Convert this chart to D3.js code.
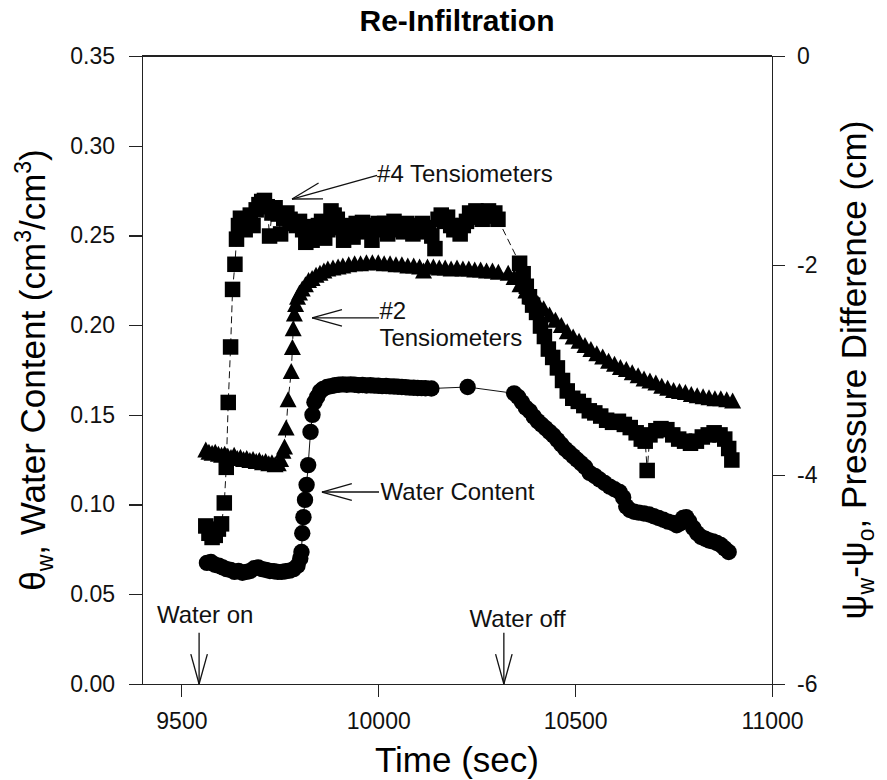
<!DOCTYPE html>
<html>
<head>
<meta charset="utf-8">
<title>Re-Infiltration</title>
<style>
  body { margin: 0; background: #fff; }
  svg { font-family: "Liberation Sans", Arial, sans-serif; }
  .axis path, .axis line { stroke: #222; stroke-width: 1.2; shape-rendering: crispEdges; }
  .axis text { font-size: 23px; fill: #111; font-family: "Liberation Sans", Arial, sans-serif; }
  .note { font-size: 24px; fill: #111; }
  .arrow { stroke: #111; stroke-width: 1.3; fill: none; }
</style>
</head>
<body>
<svg width="887" height="780"></svg>
<script src="https://d3js.org/d3.v7.min.js"></script>
<script>
// ---- data ----
// water content (left axis, cm3/cm3)
var wcTime = [9565,9575,9585,9595,9605,9615,9625,9635,9645,9655,9665,9675,9685,9695,9705,9715,9725,9735,9745,9755,9765,9775,9785,9795,
  9802,9805,9807,9810,9814,9818,9822,9828,9833,9838,9845,9852,9860,9870,9880,9890,9900,9910,9920,9930,9940,9950,9960,9970,9980,9990,
  10000,10010,10020,10030,10040,10050,10060,10070,10080,10090,10100,10110,10120,10135,10227,
  10345,10355,10365,10375,10385,10395,10405,10415,10425,10435,10445,10455,10465,10475,10485,10495,10505,10515,10525,10537,10550,10562,
  10575,10588,10600,10613,10622,10630,10639,10650,10662,10675,10688,10700,10712,10724,10736,10748,10758,10766,10774,10782,10790,10800,
  10810,10820,10830,10840,10850,10860,10870,10880,10890];
var wcValue = [0.0675,0.0680,0.0665,0.0660,0.0650,0.0640,0.0635,0.0625,0.0630,0.0620,0.0625,0.0630,0.0645,0.0650,0.0640,0.0635,0.0630,0.0628,0.0625,0.0625,0.0628,0.0632,0.0640,0.0660,
  0.0700,0.0736,0.0840,0.0930,0.1026,0.1110,0.1220,0.1405,0.1500,0.1570,0.1600,0.1630,0.1645,0.1655,0.1660,0.1665,0.1668,0.1670,0.1668,0.1670,0.1668,0.1665,0.1666,0.1664,0.1665,0.1663,
  0.1662,0.1660,0.1661,0.1659,0.1658,0.1657,0.1655,0.1654,0.1652,0.1651,0.1650,0.1649,0.1648,0.1647,0.1655,
  0.1620,0.1600,0.1570,0.1540,0.1520,0.1490,0.1465,0.1445,0.1425,0.1405,0.1385,0.1360,0.1335,0.1310,0.1290,0.1270,0.1250,0.1230,0.1210,0.1176,0.1160,0.1140,
  0.1120,0.1100,0.1085,0.1070,0.1040,0.0990,0.0970,0.0960,0.0955,0.0950,0.0945,0.0935,0.0925,0.0915,0.0905,0.0897,0.0885,0.0895,0.0925,0.0930,0.0905,0.0870,
  0.0840,0.0820,0.0810,0.0800,0.0795,0.0786,0.0775,0.0755,0.0736];

// #2 tensiometers (right axis, cm)
var t2Time = [9562,9570,9578,9586,9594,9602,9610,9618,9626,9634,9642,9650,9658,9666,9674,9682,9690,9698,9706,9714,9722,9730,9738,9746,
  9752,9758,9762,9766,9771,9779,9782,9784,9787,9790,9795,9800,9807,9815,9823,9832,9842,9852,9862,9872,9885,9898,9910,9925,9940,9955,9970,9985,
  10000,10015,10030,10045,10060,10075,10090,10105,10115,10125,10140,10155,10170,10185,10200,10215,10230,10245,10260,10275,10290,10305,
  10330,10345,10360,10375,10390,10405,10420,10435,10450,10465,10480,10495,10510,10525,10540,10555,10570,10585,10600,10615,10630,10645,
  10660,10675,10690,10705,10720,10735,10750,10765,10780,10795,10810,10825,10840,10855,10870,10885,10900];
var t2Value = [-3.77,-3.79,-3.80,-3.79,-3.81,-3.82,-3.81,-3.83,-3.84,-3.82,-3.85,-3.84,-3.86,-3.85,-3.87,-3.86,-3.88,-3.87,-3.89,-3.88,-3.90,-3.89,-3.91,-3.90,
  -3.86,-3.78,-3.74,-3.56,-3.29,-3.02,-2.79,-2.61,-2.47,-2.38,-2.31,-2.27,-2.23,-2.19,-2.15,-2.13,-2.10,-2.08,-2.06,-2.04,-2.03,-2.02,-2.01,-2.00,-1.99,-1.99,-1.98,-1.98,
  -1.98,-1.99,-1.99,-2.00,-2.00,-2.01,-2.01,-2.02,-2.06,-2.02,-2.02,-2.03,-2.03,-2.04,-2.03,-2.04,-2.04,-2.05,-2.05,-2.06,-2.06,-2.07,
  -2.08,-2.12,-2.19,-2.25,-2.31,-2.37,-2.42,-2.48,-2.53,-2.58,-2.64,-2.69,-2.73,-2.77,-2.81,-2.85,-2.88,-2.92,-2.95,-2.98,-3.00,-3.03,
  -3.06,-3.09,-3.11,-3.13,-3.16,-3.18,-3.20,-3.21,-3.22,-3.24,-3.25,-3.26,-3.27,-3.28,-3.28,-3.29,-3.30];

// #4 tensiometers (right axis, cm)
var t4Time = [9562,9570,9578,9586,9594,9602,9609,9614,9619,9625,9630,9636,9640,9645,9650,9656,9662,9668,9675,9682,9690,9697,9704,9711,9718,9724,
  9730,9738,9746,9752,9760,9768,9776,9784,9792,9800,9808,9816,9824,9832,9840,9848,9856,9864,9872,9880,9888,9896,9904,9912,9920,9928,9936,9944,
  9952,9960,9968,9976,9984,9992,10000,10008,10016,10024,10032,10040,10048,10056,10064,10072,10080,10088,10096,10104,10112,10120,10128,10136,
  10144,10152,10160,10168,10176,10184,10192,10200,10208,10216,10224,10232,10240,10248,10256,10264,10272,10280,10288,10296,10304,
  10359,10368,10376,10384,10392,10402,10412,10422,10432,10443,10455,10468,10480,10494,10508,10522,10536,10550,10565,10580,10595,10610,
  10625,10640,10655,10668,10678,10683,10690,10705,10718,10733,10748,10763,10778,10793,10808,10823,10838,10853,10868,10880,10890,10898];
var t4Value = [-4.49,-4.56,-4.60,-4.58,-4.52,-4.47,-4.27,-3.93,-3.31,-2.78,-2.23,-1.99,-1.75,-1.62,-1.55,-1.60,-1.66,-1.58,-1.52,-1.62,-1.47,-1.42,-1.39,-1.38,-1.44,-1.72,
  -1.50,-1.45,-1.51,-1.70,-1.55,-1.50,-1.56,-1.60,-1.62,-1.58,-1.66,-1.78,-1.63,-1.76,-1.70,-1.62,-1.58,-1.74,-1.66,-1.48,-1.52,-1.56,-1.64,-1.76,-1.62,-1.66,-1.73,-1.60,
  -1.63,-1.59,-1.68,-1.62,-1.76,-1.64,-1.60,-1.66,-1.60,-1.70,-1.62,-1.58,-1.66,-1.62,-1.68,-1.60,-1.64,-1.70,-1.62,-1.66,-1.60,-1.68,-1.64,-1.72,
  -1.84,-1.56,-1.52,-1.58,-1.54,-1.62,-1.66,-1.64,-1.70,-1.62,-1.58,-1.50,-1.54,-1.48,-1.52,-1.56,-1.50,-1.48,-1.53,-1.50,-1.56,
  -1.98,-2.08,-2.20,-2.30,-2.38,-2.45,-2.58,-2.68,-2.80,-2.88,-2.98,-3.10,-3.20,-3.27,-3.30,-3.34,-3.39,-3.41,-3.44,-3.48,-3.50,-3.49,
  -3.52,-3.55,-3.60,-3.66,-3.68,-3.96,-3.62,-3.58,-3.56,-3.57,-3.62,-3.66,-3.68,-3.70,-3.68,-3.64,-3.62,-3.60,-3.62,-3.66,-3.75,-3.86];

// tick values
var xTicks = [9500, 10000, 10500, 11000];
var leftTicks = [0, 0.05, 0.10, 0.15, 0.20, 0.25, 0.30, 0.35];
var rightTicks = [-6, -4, -2, 0];

// ---- layout ----
var svg = d3.select("svg"),
    margin = {top: 56, right: 115, bottom: 96, left: 142},
    width = +svg.attr("width") - margin.left - margin.right,
    height = +svg.attr("height") - margin.top - margin.bottom,
    g = svg.append("g").attr("transform", "translate(" + margin.left + "," + margin.top + ")");

var x = d3.scaleLinear().domain([9400, 11000]).range([0, width]),
    yL = d3.scaleLinear().domain([0, 0.35]).range([height, 0]),
    yR = d3.scaleLinear().domain([-6, 0]).range([height, 0]);

function zip(a, b) { return a.map(function(t, i) { return {t: t, v: b[i]}; }); }
var wc = zip(wcTime, wcValue), t2 = zip(t2Time, t2Value), t4 = zip(t4Time, t4Value);

// title
svg.append("text")
    .attr("x", margin.left + width / 2)
    .attr("y", 31)
    .attr("text-anchor", "middle")
    .attr("font-size", 30)
    .attr("font-weight", "bold")
    .text("Re-Infiltration");

// frame top
g.append("line").attr("x1", 0).attr("x2", width).attr("y1", 0).attr("y2", 0)
    .attr("stroke", "#222").attr("stroke-width", 1.2).attr("shape-rendering", "crispEdges");

g.append("g").attr("class", "axis")
    .call(d3.axisLeft(yL).tickValues(leftTicks).tickFormat(d3.format(".2f")).tickSize(13).tickSizeOuter(0).tickPadding(14));

g.append("g").attr("class", "axis")
    .attr("transform", "translate(" + width + ",0)")
    .call(d3.axisRight(yR).tickValues(rightTicks).tickFormat(function(d) { return String(d); }).tickSize(13).tickSizeOuter(0).tickPadding(12));

g.append("g").attr("class", "axis")
    .attr("transform", "translate(0," + height + ")")
    .call(d3.axisBottom(x).tickValues(xTicks).tickFormat(function(d) { return String(d); }).tickSize(13).tickSizeOuter(0).tickPadding(16));

// axis titles
svg.append("text")
    .attr("x", margin.left + width / 2)
    .attr("y", 772)
    .attr("text-anchor", "middle")
    .attr("font-size", 35)
    .text("Time (sec)");

var lt = svg.append("text")
    .attr("transform", "translate(45," + (margin.top + height / 2) + ") rotate(-90)")
    .attr("text-anchor", "middle")
    .attr("font-size", 35);
lt.append("tspan").text("\u03b8");
lt.append("tspan").attr("font-size", 23).attr("dy", 8).text("w");
lt.append("tspan").attr("dy", -8).text(", Water Content (cm");
lt.append("tspan").attr("font-size", 23).attr("dy", -14).text("3");
lt.append("tspan").attr("dy", 14).text("/cm");
lt.append("tspan").attr("font-size", 23).attr("dy", -14).text("3");
lt.append("tspan").attr("dy", 14).text(")");

var rt = svg.append("text")
    .attr("transform", "translate(866," + (margin.top + height / 2) + ") rotate(-90)")
    .attr("text-anchor", "middle")
    .attr("font-size", 35);
rt.append("tspan").text("\u03c8");
rt.append("tspan").attr("font-size", 23).attr("dy", 8).text("w");
rt.append("tspan").attr("dy", -8).text("-\u03c8");
rt.append("tspan").attr("font-size", 23).attr("dy", 8).text("o");
rt.append("tspan").attr("dy", -8).text(", Pressure Difference (cm)");

// ---- series ----
var lineL = d3.line().x(function(d) { return x(d.t); }).y(function(d) { return yL(d.v); });
var lineR = d3.line().x(function(d) { return x(d.t); }).y(function(d) { return yR(d.v); });

g.append("path").attr("d", lineR(t4)).attr("fill", "none").attr("stroke", "#111")
    .attr("stroke-width", 1).attr("stroke-dasharray", "7,4");
g.append("path").attr("d", lineR(t2)).attr("fill", "none").attr("stroke", "#111")
    .attr("stroke-width", 1).attr("stroke-dasharray", "7,4");
g.append("path").attr("d", lineL(wc)).attr("fill", "none").attr("stroke", "#111")
    .attr("stroke-width", 1);

g.selectAll(".sq").data(t4).enter().append("rect")
    .attr("class", "sq")
    .attr("x", function(d) { return x(d.t) - 7.75; })
    .attr("y", function(d) { return yR(d.v) - 7.75; })
    .attr("width", 15.5).attr("height", 15.5)
    .attr("fill", "#000");

g.selectAll(".tri").data(t2).enter().append("path")
    .attr("class", "tri")
    .attr("d", "M0,-9L8.5,7L-8.5,7Z")
    .attr("transform", function(d) { return "translate(" + x(d.t) + "," + yR(d.v) + ")"; })
    .attr("fill", "#000");

g.selectAll(".dot").data(wc).enter().append("circle")
    .attr("class", "dot")
    .attr("cx", function(d) { return x(d.t); })
    .attr("cy", function(d) { return yL(d.v); })
    .attr("r", 8.2)
    .attr("fill", "#000");

// ---- annotations ----
function arrow(x0, y0, x1, y1) {
  // open arrow, head at (x1, y1)
  var a = Math.atan2(y0 - y1, x0 - x1), len = 31, spread = 0.27;
  g.append("line").attr("class", "arrow").attr("x1", x0).attr("y1", y0).attr("x2", x1).attr("y2", y1);
  [-spread, spread].forEach(function(s) {
    g.append("line").attr("class", "arrow")
        .attr("x1", x1).attr("y1", y1)
        .attr("x2", x1 + len * Math.cos(a + s)).attr("y2", y1 + len * Math.sin(a + s));
  });
}

arrow(x(9997), yL(0.2835), x(9781), yL(0.2703));
g.append("text").attr("class", "note").attr("x", x(9997)).attr("y", yL(0.2795)).text("#4 Tensiometers");

arrow(x(10002), yL(0.204), x(9832), yL(0.204));
g.append("text").attr("class", "note").attr("x", x(10003)).attr("y", yL(0.2035)).text("#2");
g.append("text").attr("class", "note").attr("x", x(10003)).attr("y", yL(0.1885)).text("Tensiometers");

arrow(x(10002), yL(0.107), x(9857), yL(0.107));
g.append("text").attr("class", "note").attr("x", x(10006)).attr("y", yL(0.1025)).text("Water Content");

arrow(x(9545), yL(0.0285), x(9545), yL(0));
g.append("text").attr("class", "note").attr("x", x(9438)).attr("y", yL(0.034)).text("Water on");

arrow(x(10319), yL(0.0285), x(10319), yL(0));
g.append("text").attr("class", "note").attr("x", x(10232)).attr("y", yL(0.032)).text("Water off");
</script>
</body>
</html>
